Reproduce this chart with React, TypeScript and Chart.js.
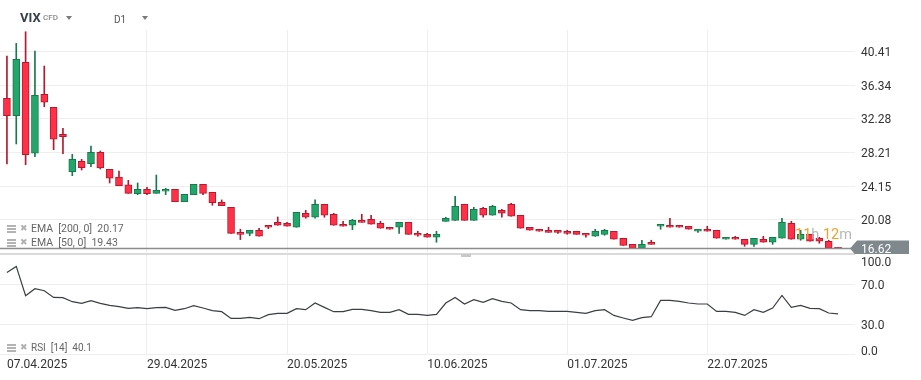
import React, { useEffect, useRef } from 'react';
import { Chart, registerables } from 'chart.js';

Chart.register(...registerables);

const dates = [
  '07.04.2025', '08.04.2025', '09.04.2025', '10.04.2025', '11.04.2025', '14.04.2025', '15.04.2025', '16.04.2025',
  '17.04.2025', '21.04.2025', '22.04.2025', '23.04.2025', '24.04.2025', '25.04.2025', '28.04.2025', '29.04.2025',
  '30.04.2025', '01.05.2025', '02.05.2025', '05.05.2025', '06.05.2025', '07.05.2025', '08.05.2025', '09.05.2025',
  '12.05.2025', '13.05.2025', '14.05.2025', '15.05.2025', '16.05.2025', '19.05.2025', '20.05.2025',
  '21.05.2025', '22.05.2025', '23.05.2025', '26.05.2025', '27.05.2025', '28.05.2025', '29.05.2025', '30.05.2025',
  '02.06.2025', '03.06.2025', '04.06.2025', '05.06.2025', '06.06.2025', '09.06.2025', '10.06.2025',
  '11.06.2025', '12.06.2025', '13.06.2025', '16.06.2025', '17.06.2025', '18.06.2025', '19.06.2025', '20.06.2025',
  '23.06.2025', '24.06.2025', '25.06.2025', '26.06.2025', '27.06.2025', '30.06.2025', '01.07.2025',
  '02.07.2025', '03.07.2025', '04.07.2025', '07.07.2025', '08.07.2025', '09.07.2025', '10.07.2025', '11.07.2025',
  '14.07.2025', '15.07.2025', '16.07.2025', '17.07.2025', '18.07.2025', '21.07.2025', '22.07.2025',
  '23.07.2025', '24.07.2025', '25.07.2025', '28.07.2025', '29.07.2025', '30.07.2025', '31.07.2025',
  '01.08.2025', '04.08.2025', '05.08.2025', '06.08.2025', '07.08.2025', '08.08.2025', '11.08.2025',
];

const opens = [
  34.78, 32.68, 39.13, 28.14, 35.26, 33.69, 30.43, 25.91, 27.17, 26.88,
  28.26, 26.20, 25.27, 24.34, 23.26, 23.79, 23.30, 23.55, 23.79, 22.29,
  23.14, 24.39, 23.43, 22.22, 21.61, 18.59, 18.47, 18.84, 19.44, 19.80,
  19.68, 19.20, 20.89, 20.41, 21.98, 20.77, 19.56, 19.44, 20.04, 20.16,
  19.68, 19.20, 19.20, 19.80, 18.47, 18.35, 17.99, 19.92, 20.04, 21.98,
  20.04, 21.49, 20.65, 21.25, 21.98, 20.65, 19.20, 18.96, 18.84, 18.84,
  18.72, 18.72, 18.47, 18.11, 18.35, 18.72, 17.87, 17.14, 16.66, 17.39,
  19.32, 19.44, 19.44, 19.32, 18.72, 18.96, 18.84, 17.75, 17.99, 17.75,
  17.14, 17.75, 17.39, 17.87, 19.68, 17.75, 18.35, 17.87, 17.51, 16.78,
];
const highs = [
  39.89, 41.42, 42.82, 40.49, 38.68, 33.69, 31.15, 28.01, 27.41, 29.02,
  28.41, 26.20, 25.99, 24.87, 24.55, 24.03, 25.51, 23.91, 23.79, 23.18,
  24.39, 24.39, 23.43, 22.50, 21.61, 18.96, 18.84, 19.08, 19.44, 20.44,
  19.80, 21.01, 21.25, 22.50, 21.98, 20.89, 19.92, 20.16, 20.77, 20.65,
  19.92, 19.20, 19.80, 19.80, 18.72, 18.47, 18.72, 20.41, 22.94, 21.98,
  21.61, 21.61, 21.86, 21.37, 22.10, 20.65, 19.20, 18.96, 19.20, 18.84,
  18.84, 18.72, 18.47, 18.96, 18.96, 18.72, 17.87, 17.14, 17.63, 17.63,
  19.56, 20.29, 19.44, 19.32, 18.96, 19.32, 18.84, 17.99, 18.11, 17.75,
  17.87, 18.11, 17.99, 20.29, 19.92, 18.84, 18.35, 17.99, 17.63, 16.78,
];
const lows = [
  26.84, 29.26, 26.76, 27.72, 33.76, 28.57, 28.09, 25.43, 26.12, 26.52,
  26.24, 24.55, 24.22, 23.30, 23.14, 23.14, 23.30, 23.14, 22.29, 22.29,
  23.14, 23.14, 21.86, 21.81, 18.47, 17.71, 18.18, 18.11, 19.03, 19.44,
  19.32, 19.20, 20.29, 20.29, 20.41, 19.44, 19.32, 18.91, 19.80, 19.56,
  19.08, 18.96, 18.47, 18.35, 18.11, 17.99, 17.39, 19.92, 20.04, 20.04,
  20.04, 20.41, 20.65, 20.41, 20.53, 19.08, 18.84, 18.72, 18.59, 18.47,
  18.35, 18.35, 17.99, 18.11, 18.23, 17.75, 17.02, 16.66, 16.66, 17.14,
  18.96, 19.20, 19.20, 18.96, 18.59, 18.72, 17.87, 17.75, 17.75, 16.90,
  16.90, 17.39, 17.14, 17.87, 17.75, 17.63, 17.51, 17.27, 16.66, 16.62,
];
const closes = [
  32.68, 39.49, 27.97, 35.14, 34.30, 29.83, 30.14, 27.41, 26.40, 28.26,
  26.36, 25.12, 24.22, 23.30, 23.79, 23.26, 23.67, 23.79, 22.29, 23.18,
  24.39, 23.30, 22.17, 21.81, 18.47, 18.35, 18.84, 18.11, 19.20, 19.44,
  19.32, 21.01, 20.41, 21.98, 20.65, 19.44, 19.32, 20.04, 19.80, 19.56,
  19.08, 18.96, 19.80, 18.35, 18.23, 17.99, 18.35, 20.29, 21.73, 20.04,
  21.37, 20.65, 21.73, 20.89, 20.53, 19.08, 18.84, 18.72, 18.59, 18.59,
  18.47, 18.35, 18.23, 18.72, 18.84, 17.75, 17.02, 16.66, 17.14, 17.14,
  19.56, 19.20, 19.20, 18.96, 18.96, 18.72, 17.87, 17.99, 17.75, 17.14,
  17.87, 17.39, 17.99, 19.80, 17.75, 18.35, 17.51, 17.51, 16.66, 16.62,
];

const rsiValues = [
  81.6, 87.6, 58.3, 65.3, 63.3, 56.6, 56.3, 52.3, 50.6, 53.3,
  50.6, 48.6, 47.3, 45.6, 46.3, 45.3, 46.3, 46.6, 43.6, 45.3,
  48.3, 46.0, 43.3, 42.3, 35.6, 35.6, 36.6, 35.3, 39.3, 40.6,
  40.6, 45.3, 44.3, 51.0, 46.6, 42.3, 42.3, 44.6, 44.6, 43.3,
  41.6, 41.6, 44.3, 39.6, 39.6, 38.6, 39.6, 51.0, 56.6, 50.0,
  54.3, 51.6, 55.3, 52.6, 51.0, 44.3, 43.3, 43.3, 42.6, 42.6,
  42.6, 41.6, 40.6, 43.3, 44.3, 38.6, 36.0, 33.6, 36.3, 37.3,
  53.6, 53.6, 52.6, 51.0, 50.0, 50.0, 42.6, 42.6, 41.6, 38.6,
  44.3, 41.6, 46.0, 58.6, 46.6, 48.6, 45.6, 45.3, 41.0, 40.1,
];

const priceTicks = [20.08, 24.15, 28.21, 32.28, 36.34, 40.41];
const rsiTicks = [0, 30, 70, 100];
const dateTickIndexes = [0, 15, 30, 45, 60, 75];
const emaLegend = ['EMA  [200, 0]  20.17', 'EMA  [50, 0]  19.43'];
const rsiLegend = 'RSI  [14]  40.1';
const lastPrice = 16.62;
const symbol = 'VIX';
const symbolType = 'CFD';
const timeframe = 'D1';

const UP_FILL = '#22a66c';
const UP_LINE = '#167a4b';
const DN_FILL = '#ff3047';
const DN_LINE = '#b5192d';
const FONT = 'Roboto, "Noto Sans", sans-serif';

const overlayPlugin = {
  id: 'overlayPlugin',
  afterDatasetsDraw(chart: any) {
    const { ctx, chartArea, scales } = chart;
    const ys = scales.y;
    const yr = scales.y2;
    const py = ys.getPixelForValue(lastPrice);
    ctx.save();
    ctx.strokeStyle = '#8d8d8d';
    ctx.lineWidth = 1.5;
    ctx.beginPath();
    ctx.moveTo(chartArea.left, py);
    ctx.lineTo(chartArea.right, py);
    ctx.stroke();

    ctx.save();
    ctx.beginPath();
    ctx.rect(0, ys.top, chart.width, ys.bottom - ys.top);
    ctx.clip();
    const tip = chartArea.right - 5;
    ctx.fillStyle = '#7f898d';
    ctx.beginPath();
    ctx.moveTo(tip, py);
    ctx.lineTo(tip + 7, py - 8);
    ctx.lineTo(909, py - 8);
    ctx.lineTo(909, py + 8);
    ctx.lineTo(tip + 7, py + 8);
    ctx.closePath();
    ctx.fill();
    ctx.fillStyle = '#ffffff';
    ctx.font = '12px ' + FONT;
    ctx.textBaseline = 'middle';
    ctx.textAlign = 'left';
    ctx.fillText(lastPrice.toFixed(2), chartArea.right + 6, py + 1.5);
    ctx.restore();

    ctx.fillStyle = '#333333';
    ctx.font = '12px ' + FONT;
    ctx.textBaseline = 'middle';
    ctx.textAlign = 'left';
    rsiTicks.forEach((v) => {
      let y = yr.getPixelForValue(v) + 1.5;
      if (v === 100) y += 7;
      else if (v === 0) y -= 4;
      ctx.fillText(v.toFixed(1), chartArea.right + 6, y);
    });

    ctx.fillStyle = '#c8c8c8';
    ctx.fillRect(461, yr.top, 10, 3);
    ctx.restore();
  },
};

function ListIcon({ top }: { top: number }) {
  return (
    <div style={{ position: 'absolute', left: 7, top, width: 9, height: 8 }}>
      {[0, 3, 6].map((t) => (
        <div key={t} style={{ position: 'absolute', left: 0, top: t, width: 9, height: 2, background: '#b3b3b3' }} />
      ))}
    </div>
  );
}

function LegendRow({ top, text, size }: { top: number; text: string; size: number }) {
  return (
    <>
      <ListIcon top={top - 4} />
      <div style={{ position: 'absolute', left: 20, top: top - 7, fontSize: 9, lineHeight: '12px', color: '#b0b0b0', fontFamily: '"DejaVu Sans", sans-serif' }}>✖</div>
      <div style={{ position: 'absolute', left: 31, top: top - 7, fontSize: size, lineHeight: '14px', color: '#666', fontFamily: FONT, whiteSpace: 'pre' }}>{text}</div>
    </>
  );
}

function Caret({ left, top }: { left: number; top: number }) {
  return (
    <div style={{ position: 'absolute', left, top, width: 0, height: 0, borderLeft: '3.5px solid transparent', borderRight: '3.5px solid transparent', borderTop: '4px solid #7a7a7a' }} />
  );
}

export default function App() {
  const canvasRef = useRef<HTMLCanvasElement | null>(null);

  useEffect(() => {
    const canvas = canvasRef.current;
    if (!canvas) return;
    const idx = dates.map((_, i) => i);
    const up = idx.map((i) => closes[i] >= opens[i]);
    const chart = new Chart(canvas, {
      type: 'bar',
      data: {
        datasets: [
          {
            type: 'bar',
            label: 'wick',
            data: idx.map((i) => ({ x: i, y: [lows[i], highs[i]] })) as any,
            backgroundColor: idx.map((i) => (up[i] ? UP_LINE : DN_LINE)),
            barThickness: 1,
            grouped: false,
            yAxisID: 'y',
            order: 3,
          } as any,
          {
            type: 'bar',
            label: 'body',
            data: idx.map((i) => ({ x: i, y: [opens[i], closes[i]] })) as any,
            backgroundColor: idx.map((i) => (up[i] ? UP_FILL : DN_FILL)),
            borderColor: idx.map((i) => (up[i] ? UP_LINE : DN_LINE)),
            borderWidth: 1,
            borderSkipped: false,
            barThickness: 7,
            grouped: false,
            yAxisID: 'y',
            order: 2,
          } as any,
          {
            type: 'line',
            label: 'RSI',
            data: idx.map((i) => ({ x: i, y: rsiValues[i] })) as any,
            borderColor: '#3a3f44',
            borderWidth: 1.2,
            pointRadius: 0,
            tension: 0,
            yAxisID: 'y2',
            order: 1,
          } as any,
        ],
      },
      options: {
        responsive: false,
        animation: false,
        layout: { padding: { top: 30, left: 0, right: 0, bottom: 0 } },
        plugins: { legend: { display: false }, tooltip: { enabled: false } },
        scales: {
          x: {
            type: 'linear',
            position: 'bottom',
            offset: false,
            min: -0.742,
            max: 90.82,
            afterBuildTicks: (s: any) => {
              s.ticks = dateTickIndexes.map((v) => ({ value: v }));
            },
            afterFit: (s: any) => {
              s.height = 26;
            },
            grid: {
              offset: false,
              color: (c: any) => (c.tick && c.tick.value === 0 ? 'rgba(0,0,0,0)' : '#eeeeee'),
              drawTicks: false,
            },
            border: { display: false },
            ticks: {
              align: 'start',
              color: '#333333',
              font: { family: FONT, size: 12 },
              padding: 4,
              maxRotation: 0,
              autoSkip: false,
              callback: (v: any) => dates[v] ?? '',
            },
          },
          y: {
            type: 'linear',
            position: 'right',
            stack: 'panels',
            stackWeight: 224,
            min: 15.97,
            max: 43.03,
            afterBuildTicks: (s: any) => {
              s.ticks = priceTicks.map((v) => ({ value: v }));
            },
            afterFit: (s: any) => {
              s.width = 66;
            },
            grid: { color: '#eeeeee', drawTicks: false },
            border: { display: false },
            ticks: {
              color: '#333333',
              font: { family: FONT, size: 12 },
              padding: 6,
              labelOffset: 1.5,
              callback: (v: any) => Number(v).toFixed(2),
            },
          },
          y2: {
            type: 'linear',
            position: 'right',
            stack: 'panels',
            stackWeight: 100,
            min: 0,
            max: 100,
            afterBuildTicks: (s: any) => {
              s.ticks = rsiTicks.map((v) => ({ value: v }));
            },
            afterFit: (s: any) => {
              s.width = 66;
            },
            grid: {
              color: (c: any) => (c.tick && c.tick.value === 100 ? '#dadada' : '#eeeeee'),
              lineWidth: (c: any) => (c.tick && c.tick.value === 100 ? 2 : 1),
              drawTicks: false,
            },
            border: { display: false },
            ticks: { display: false },
          },
        },
      } as any,
      plugins: [overlayPlugin],
    });
    return () => chart.destroy();
  }, []);

  return (
    <div style={{ position: 'fixed', left: 0, top: 0, width: 921, height: 380, background: '#ffffff', overflow: 'hidden' }}>
      <canvas ref={canvasRef} width={921} height={380} style={{ display: 'block', width: 921, height: 380 }} />
      <div style={{ position: 'absolute', left: 20, top: 10, fontSize: 13, fontWeight: 700, color: '#36414a', fontFamily: FONT, lineHeight: '16px' }}>{symbol}</div>
      <div style={{ position: 'absolute', left: 43, top: 13, fontSize: 8, fontWeight: 500, color: '#8a8a8a', fontFamily: FONT, lineHeight: '10px' }}>{symbolType}</div>
      <Caret left={66} top={16} />
      <div style={{ position: 'absolute', left: 114, top: 14, fontSize: 10, color: '#555', fontFamily: FONT, lineHeight: '12px' }}>{timeframe}</div>
      <Caret left={142} top={16} />
      <LegendRow top={229} text={emaLegend[0]} size={10.5} />
      <LegendRow top={243} text={emaLegend[1]} size={10.5} />
      <LegendRow top={348} text={rsiLegend} size={10} />
      <div style={{ position: 'absolute', left: 795, top: 226, fontSize: 14.5, lineHeight: '17px', fontFamily: FONT, whiteSpace: 'pre' }}>
        <span style={{ color: '#f5a02a' }}>11</span>
        <span style={{ color: '#b8b8b8' }}>h </span>
        <span style={{ color: '#f5a02a' }}>12</span>
        <span style={{ color: '#b8b8b8' }}>m</span>
      </div>
    </div>
  );
}
